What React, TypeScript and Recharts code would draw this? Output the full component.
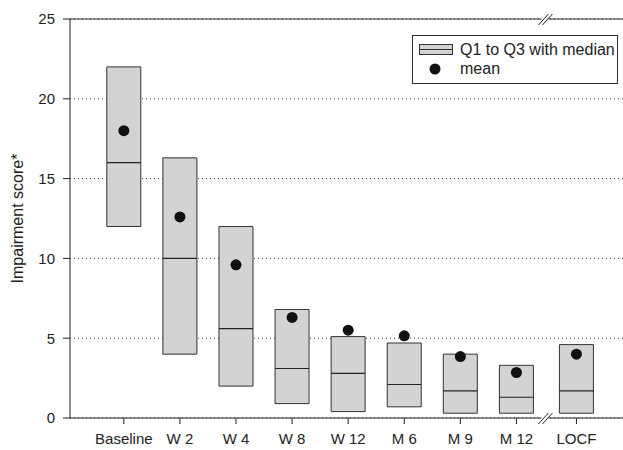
import { Bar, CartesianGrid, ComposedChart, ReferenceDot, ReferenceLine, Scatter, XAxis, YAxis } from "recharts";

const categories = ["Baseline", "W 2", "W 4", "W 8", "W 12", "M 6", "M 9", "M 12", "LOCF"];
const q1Values = [12, 4, 2, 0.9, 0.4, 0.7, 0.3, 0.3, 0.3];
const q3Values = [22, 16.3, 12, 6.8, 5.1, 4.7, 4.0, 3.3, 4.6];
const medianValues = [16, 10, 5.6, 3.1, 2.8, 2.1, 1.7, 1.3, 1.7];
const meanValues = [18, 12.6, 9.6, 6.3, 5.5, 5.15, 3.85, 2.85, 4.0];
const yTicks = [0, 5, 10, 15, 20, 25];

// LOCF sits a little further right, after the axis break
const breakGap = 0.07;
const rows = categories.map((name, i) => ({
  name,
  x: i + 1 + (i === categories.length - 1 ? breakGap : 0),
  q1: q1Values[i],
  q3: q3Values[i],
  median: medianValues[i],
  mean: meanValues[i]
}));
const xTicks = rows.map((r) => r.x);
const breakX = (rows[rows.length - 2].x + rows[rows.length - 1].x) / 2;

const FONT = '"Liberation Sans", Arial, sans-serif';
const BOX_W = 34;

function MedianLine(props: any) {
  const { cx, cy } = props;
  return <line x1={cx - BOX_W / 2} x2={cx + BOX_W / 2} y1={cy} y2={cy} stroke="#222" strokeWidth={1.2} />;
}

function MeanDot(props: any) {
  const { cx, cy } = props;
  return <circle cx={cx} cy={cy} r={5.5} fill="#111" />;
}

function BreakMark(props: any) {
  const { cx, cy } = props;
  return (
    <g>
      <rect x={cx - 5} y={cy - 2} width={7} height={4} fill="#fff" />
      <line x1={cx - 8} y1={cy + 6} x2={cx + 2} y2={cy - 5} stroke="#222" strokeWidth={1} />
      <line x1={cx - 4} y1={cy + 6} x2={cx + 6} y2={cy - 5} stroke="#222" strokeWidth={1} />
    </g>
  );
}

function LegendBox() {
  return (
    <div
      style={{
        position: "absolute",
        left: 412,
        top: 35,
        boxSizing: "border-box",
        width: 206,
        height: 49,
        border: "1px solid #333",
        background: "#fff",
        padding: "4px 0 0 6px",
        fontFamily: FONT,
        fontSize: 16,
        color: "#222",
        lineHeight: "19px"
      }}
    >
      <div style={{ display: "flex", alignItems: "center" }}>
        <svg width={34} height={12} style={{ marginRight: 7 }}>
          <rect x={0.5} y={0.5} width={33} height={10} fill="#d3d3d3" stroke="#333" />
          <line x1={0} x2={34} y1={5.5} y2={5.5} stroke="#333" />
        </svg>
        <span>Q1 to Q3 with median</span>
      </div>
      <div style={{ display: "flex", alignItems: "center" }}>
        <svg width={34} height={12} style={{ marginRight: 7 }}>
          <circle cx={16} cy={6} r={5.5} fill="#111" />
        </svg>
        <span>mean</span>
      </div>
    </div>
  );
}

export default function App() {
  return (
    <div style={{ position: "absolute", left: 0, top: 0, width: 623, height: 450, background: "#fff" }}>
      <ComposedChart width={623} height={450} data={rows} margin={{ top: 19, right: 0, bottom: 2, left: 0 }}>
        <CartesianGrid vertical={false} stroke="#444" strokeDasharray="1 3" />
        <XAxis
          type="number"
          dataKey="x"
          domain={[0.04, 9.9]}
          ticks={xTicks}
          tickFormatter={(v: number) => rows.find((r) => r.x === v)?.name ?? ""}
          height={30}
          tickSize={6}
          tickMargin={9}
          stroke="#222"
          tick={{ fill: "#222", fontSize: 15, fontFamily: FONT }}
          interval={0}
          allowDataOverflow
        />
        <YAxis
          type="number"
          domain={[0, 25]}
          ticks={yTicks}
          width={70}
          tickSize={7}
          tickMargin={8}
          stroke="#222"
          tick={{ fill: "#222", fontSize: 15, fontFamily: FONT }}
          label={{
            value: "Impairment score*",
            angle: -90,
            position: "insideLeft",
            offset: 17,
            style: { textAnchor: "middle", fill: "#222", fontSize: 16, fontFamily: FONT }
          }}
        />
        <ReferenceLine y={25} stroke="#222" strokeWidth={1} />
        <Bar
          dataKey={(d: any) => [d.q1, d.q3]}
          barSize={BOX_W}
          fill="#d3d3d3"
          stroke="#333"
          strokeWidth={1}
          isAnimationActive={false}
        />
        <Scatter dataKey="median" shape={<MedianLine />} isAnimationActive={false} />
        <Scatter dataKey="mean" shape={<MeanDot />} isAnimationActive={false} />
        <ReferenceDot x={breakX} y={25} r={0} ifOverflow="visible" shape={<BreakMark />} />
        <ReferenceDot x={breakX} y={0} r={0} ifOverflow="visible" shape={<BreakMark />} />
      </ComposedChart>
      <LegendBox />
    </div>
  );
}
